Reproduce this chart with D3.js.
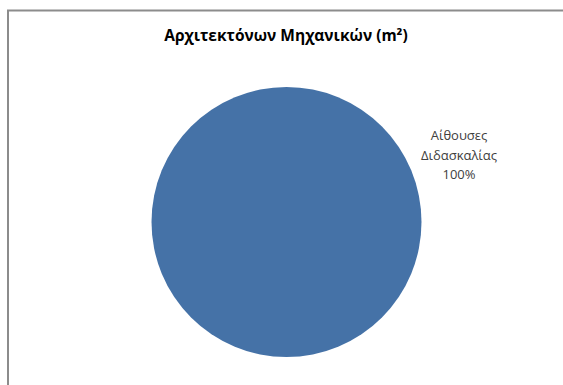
<!DOCTYPE html>
<html><head><meta charset="utf-8">
<script src="https://cdn.jsdelivr.net/npm/d3@7"></script>
<style>body{margin:0;background:#fff}svg{display:block}</style>
</head><body>
<script>
const title = "Αρχιτεκτόνων Μηχανικών (m²)";
const categories = ["Αίθουσες Διδασκαλίας"];
const values = [100];
const labelLines = [["Αίθουσες", "Διδασκαλίας"]];

const W = 563, H = 385;
const svg = d3.select("body").append("svg").attr("width", W).attr("height", H);
svg.append("rect").attr("width", W).attr("height", H).attr("fill", "#fff");
// chart border
svg.append("rect").attr("x", 8).attr("y", 10.5).attr("width", W).attr("height", H)
  .attr("fill", "none").attr("stroke", "#8c8c8c").attr("stroke-width", 2);

svg.append("text").attr("x", 286).attr("y", 41).attr("text-anchor", "middle")
  .attr("font-family", "Open Sans, Liberation Sans, sans-serif").attr("font-weight", "bold")
  .attr("font-size", 15.5).attr("fill", "#000").text(title);

const cx = 286.5, cy = 222, r = 135;
const pie = d3.pie().sort(null)(values);
const arc = d3.arc().innerRadius(0).outerRadius(r);
const total = d3.sum(values);
const g = svg.append("g").attr("transform", `translate(${cx},${cy})`);
g.selectAll("path").data(pie).join("path").attr("d", arc).attr("fill", "#4572a7");

const lbl = svg.append("text").attr("text-anchor", "middle")
  .attr("font-family", "Open Sans, Liberation Sans, sans-serif")
  .attr("font-size", 13).attr("fill", "#404040");
pie.forEach((d, i) => {
  const lines = [...labelLines[i], d3.format(".0%")(d.value / total)];
  lines.forEach((t, j) => lbl.append("tspan").attr("x", 459).attr("y", 140 + j * 19.5).text(t));
});
</script>
</body></html>
